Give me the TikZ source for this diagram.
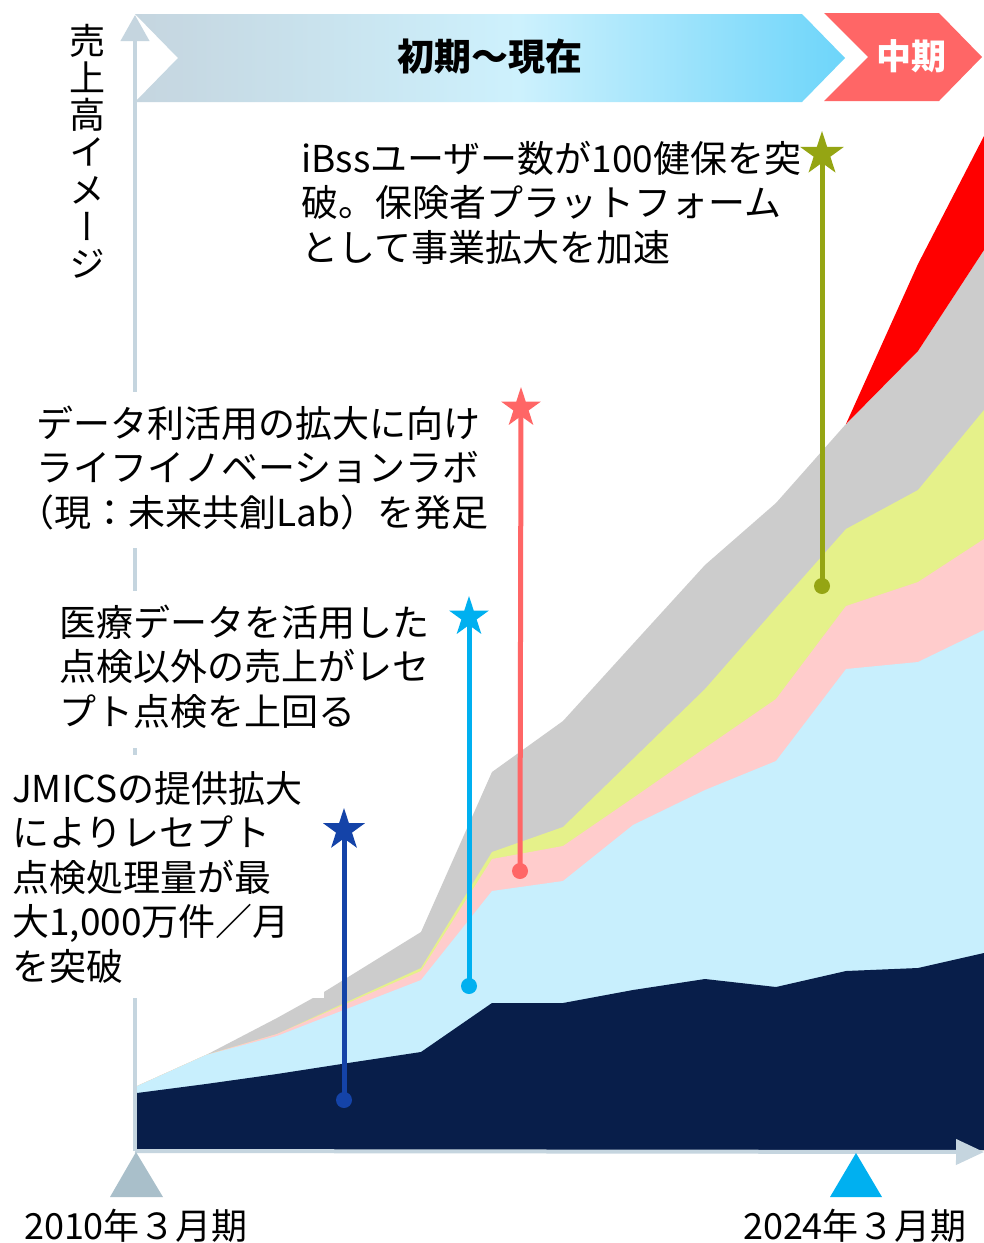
\documentclass[tikz,border=0pt]{standalone}
\usepackage{fontspec}
\setmainfont{Noto Sans CJK JP}
\newfontfamily\vjp[RawFeature=+vert]{Noto Sans CJK JP}
\usetikzlibrary{shapes.geometric,arrows.meta}
\definecolor{cNavy}{HTML}{081E4A}
\definecolor{cLBlue}{HTML}{C8EFFD}
\definecolor{cPink}{HTML}{FFCCCC}
\definecolor{cYellow}{HTML}{E5F18A}
\definecolor{cGrey}{HTML}{CCCCCC}
\definecolor{cRed}{HTML}{FF0000}
\definecolor{cAxis}{HTML}{C5D5DF}
\definecolor{cTri}{HTML}{A9BFCA}
\definecolor{cCyan}{HTML}{00B0F0}
\definecolor{cCoral}{HTML}{FF6666}
\definecolor{cStarNavy}{HTML}{1443A8}
\definecolor{cOlive}{HTML}{95A513}
\definecolor{bgL}{HTML}{C5D5DF}
\definecolor{bgM}{HTML}{CDF1FD}
\definecolor{bgR}{HTML}{6DD5FA}
\pgfdeclarehorizontalshading{bannershade}{100bp}{color(0bp)=(bgL); color(25bp)=(bgL); color(52bp)=(bgM); color(75bp)=(bgR); color(100bp)=(bgR)}
\newcommand\lbltop{\rule{0pt}{45pt}}
\newcommand\lblbot[1]{\rule[-#1]{0pt}{#1}}
\tikzset{
  lbl/.style={anchor=north west, fill=white, inner xsep=8pt, inner ysep=0pt, align=left,
    font=\fontsize{37}{44.5}\selectfont, text=black},
  starnode/.style={star, star points=5, star point ratio=2.618, inner sep=0pt,
    minimum size=44pt, draw=none, fill=#1},
  dotnode/.style={circle, inner sep=0pt, minimum size=16pt, draw=none, fill=#1},
  evline/.style={line width=5pt, draw=#1},
  areafill/.style={fill=#1, draw=none},
  axisline/.style={draw=cAxis, line width=4pt},
  datelbl/.style={font=\fontsize{36}{40}\selectfont, text=black, inner sep=0pt},
}
\begin{document}
\begin{tikzpicture}[x=1pt,y=-1pt]
\useasboundingbox (0,0) rectangle (984,1243);
\fill[white] (0,0) rectangle (984,1243);

% stacked area chart
\fill[areafill=cGrey] (135,1150) -- (135,1087) -- (206,1055) -- (277,1018) -- (313,998) -- (324,998) -- (324,992)
  -- (421,932) -- (492,772) -- (563,721) -- (633,644) -- (705,565) -- (776,503) -- (846,424) -- (918,351) -- (984,250) -- (984,1150) -- cycle;
\fill[areafill=cRed] (846,424) -- (918,264) -- (984,136) -- (984,250) -- (918,351) -- cycle;
\fill[areafill=cYellow] (135,1150) -- (135,1087) -- (206,1055) -- (277,1034) -- (421,968) -- (492,852) -- (563,827) -- (633,759)
  -- (705,689) -- (776,608) -- (846,529) -- (918,490) -- (984,410) -- (984,1150) -- cycle;
\fill[areafill=cPink] (135,1150) -- (135,1087) -- (206,1055) -- (277,1034) -- (421,971) -- (492,859) -- (563,846) -- (633,798)
  -- (705,748) -- (776,699) -- (846,606) -- (918,582) -- (984,539) -- (984,1150) -- cycle;
\fill[areafill=cLBlue] (135,1150) -- (135,1087) -- (206,1055) -- (277,1036) -- (421,980) -- (492,891) -- (563,881) -- (633,825)
  -- (705,790) -- (776,761) -- (846,669) -- (918,662) -- (984,630) -- (984,1150) -- cycle;
\fill[areafill=cNavy] (137,1150) -- (137,1093) -- (206,1084) -- (277,1074) -- (348,1063) -- (421,1052) -- (492,1003) -- (563,1003)
  -- (633,990) -- (705,979) -- (776,987) -- (846,971) -- (918,968) -- (984,953) -- (984,1150) -- cycle;

% axes
\coordinate (orig) at (135,1151);
\coordinate (ytip) at (135,15);
\coordinate (xtip) at (984,1152);
\draw[axisline, -{Triangle[length=26pt,width=28pt]}] (orig) -- (ytip);
\draw[axisline, -{Triangle[length=28pt,width=25pt]}] (orig) -- (xtip);

% banner
\shade[shading=bannershade] (135,14) -- (802,14) -- (845,58) -- (802,102) -- (135,102) -- (178,58) -- cycle;
\node[font=\bfseries\fontsize{37}{40}\selectfont, text=black, inner sep=0pt] (b1) at (490,57) {初期〜現在};
\fill[cCoral] (824,13) -- (939,13) -- (982,57) -- (939,101) -- (824,101) -- (868,57) -- cycle;
\node[font=\bfseries\fontsize{35}{40}\selectfont, text=white, inner sep=0pt] (b2) at (911,56) {中期};

% y label
\node[anchor=north, inner sep=0pt, align=center, font=\vjp\fontsize{36}{37.2}\selectfont] (ylab) at (87,14)
  {\rule{0pt}{40pt}売\\上\\高\\イ\\メ\\ー\\ジ};

% annotation texts
\node[lbl] (t4) at (293,127) {\lbltop iBssユーザー数が100健保を突\\破。保険者プラットフォーム\\として事業拡大を加速};
\node[lbl] (t3) at (28,392) {\lbltop データ利活用の拡大に向け\\ライフイノベーションラボ\\\hspace*{-0.5em}（現：未来共創Lab）を発足\lblbot{22pt}};
\node[lbl] (t2) at (51,591) {\lbltop 医療データを活用した\\点検以外の売上がレセ\\プト点検を上回る\lblbot{23pt}};
\node[lbl] (t1) at (4,755) {\rule{0pt}{47pt}JMICSの提供拡大\\によりレセプト\\点検処理量が最\\大1,000万件／月\\を突破\lblbot{18pt}};

% markers
\node[dotnode=cStarNavy] (p1) at (344,1100) {};
\node[starnode=cStarNavy] (s1) at (344,830) {};
\draw[evline=cStarNavy] (p1.center) -- (s1.center);
\node[dotnode=cCyan] (p2) at (469,986) {};
\node[starnode=cCyan, minimum size=42pt] (s2) at (469,617) {};
\draw[evline=cCyan] (p2.center) -- (s2.center);
\node[dotnode=cCoral] (p3) at (520,871) {};
\node[starnode=cCoral, minimum size=42pt] (s3) at (521,408) {};
\draw[evline=cCoral] (p3.center) -- (s3.center);
\node[dotnode=cOlive] (p4) at (822,586) {};
\node[starnode=cOlive, minimum size=46pt] (s4) at (822,154) {};
\draw[evline=cOlive] (p4.center) -- (s4.center);

% period markers
\fill[cTri] (110,1197) -- (163,1197) -- (136,1152) -- cycle;
\fill[cCyan] (830,1197) -- (882,1197) -- (856,1153) -- cycle;
\node[datelbl] (d1) at (136,1226) {2010年３月期};
\node[datelbl] (d2) at (855,1226) {2024年３月期};
\end{tikzpicture}
\end{document}
